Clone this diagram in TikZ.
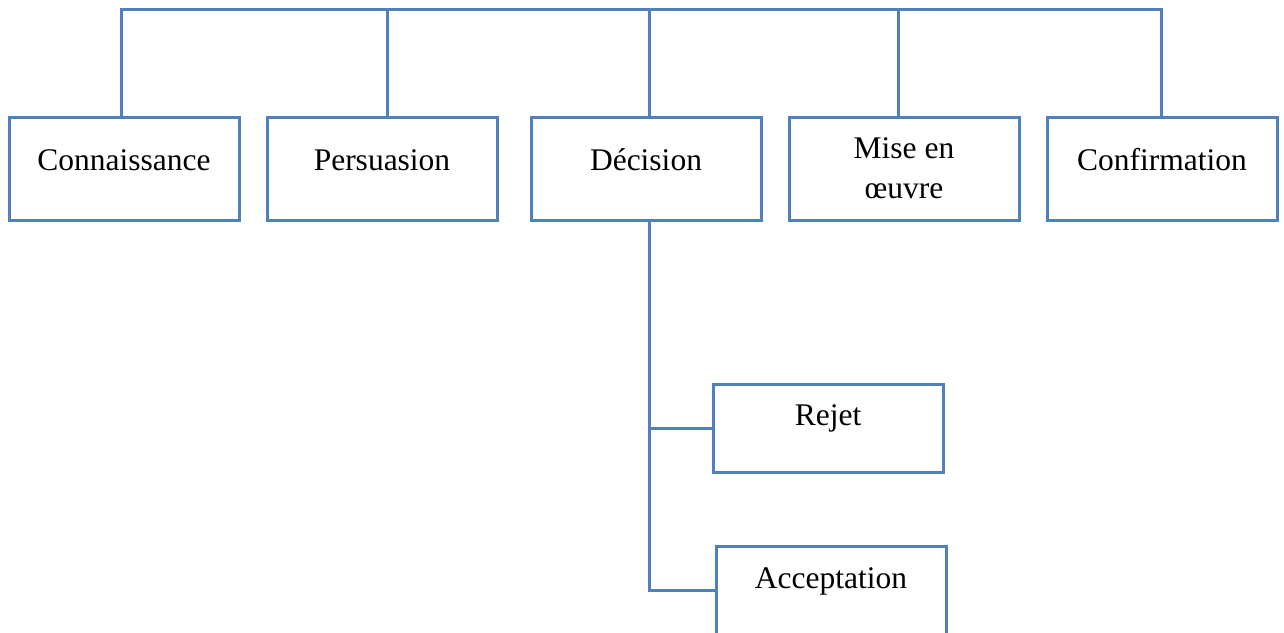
\documentclass[tikz,border=0pt]{standalone}
\usepackage{fontspec}
\setmainfont{Liberation Serif}
\definecolor{linkblue}{HTML}{4F81BD}
\begin{document}
\begin{tikzpicture}[x=1pt,y=-1pt,
  stagebox/.style={draw=linkblue,line width=3pt,rectangle,minimum width=230pt,minimum height=103pt,inner sep=0pt},
  optbox/.style={draw=linkblue,line width=3pt,rectangle,minimum width=230pt,minimum height=88pt,inner sep=0pt},
  link/.style={draw=linkblue,line width=3pt},
  lbl/.style={font=\fontsize{31.5}{40}\selectfont,anchor=base,inner sep=0pt,align=center}]
\useasboundingbox (0,0) rectangle (1284,632);
% stages
\node[stagebox] (b1) at (124,168.5) {};
\node[stagebox] (b2) at (382,168.5) {};
\node[stagebox] (b3) at (646,168.5) {};
\node[stagebox] (b4) at (904,168.5) {};
\node[stagebox] (b5) at (1162,168.5) {};
% decision outcomes
\node[optbox] (r) at (828,428) {};
\node[optbox] (a) at (831,590) {};
% labels
\node[lbl] (t1) at (124,170) {Connaissance};
\node[lbl] (t2) at (382,170) {Persuasion};
\node[lbl] (t3) at (646,170) {Décision};
\node[lbl] (t4) at (904,198) {Mise en\\œuvre};
\node[lbl] (t5) at (1162,170) {Confirmation};
\node[lbl] (tr) at (828,425) {Rejet};
\node[lbl] (ta) at (831,588) {Acceptation};
% top connector
\coordinate (top) at (0,9);
\draw[link] ([xshift=-3pt]b1.north) -- ([xshift=-3pt]b1.north |- top) -- ([xshift=-1pt]b5.north |- top) -- ([xshift=-1pt]b5.north);
\draw[link] ([xshift=5pt]b2.north) -- ([xshift=5pt]b2.north |- top);
\draw[link] ([xshift=3pt]b3.north) -- ([xshift=3pt]b3.north |- top);
\draw[link] ([xshift=-6pt]b4.north) -- ([xshift=-6pt]b4.north |- top);
% decision branch
\coordinate (split) at ([xshift=3pt]b3.south);
\draw[link] (split) |- (a.west);
\draw[link] (split |- r.west) -- (r.west);
\end{tikzpicture}
\end{document}
